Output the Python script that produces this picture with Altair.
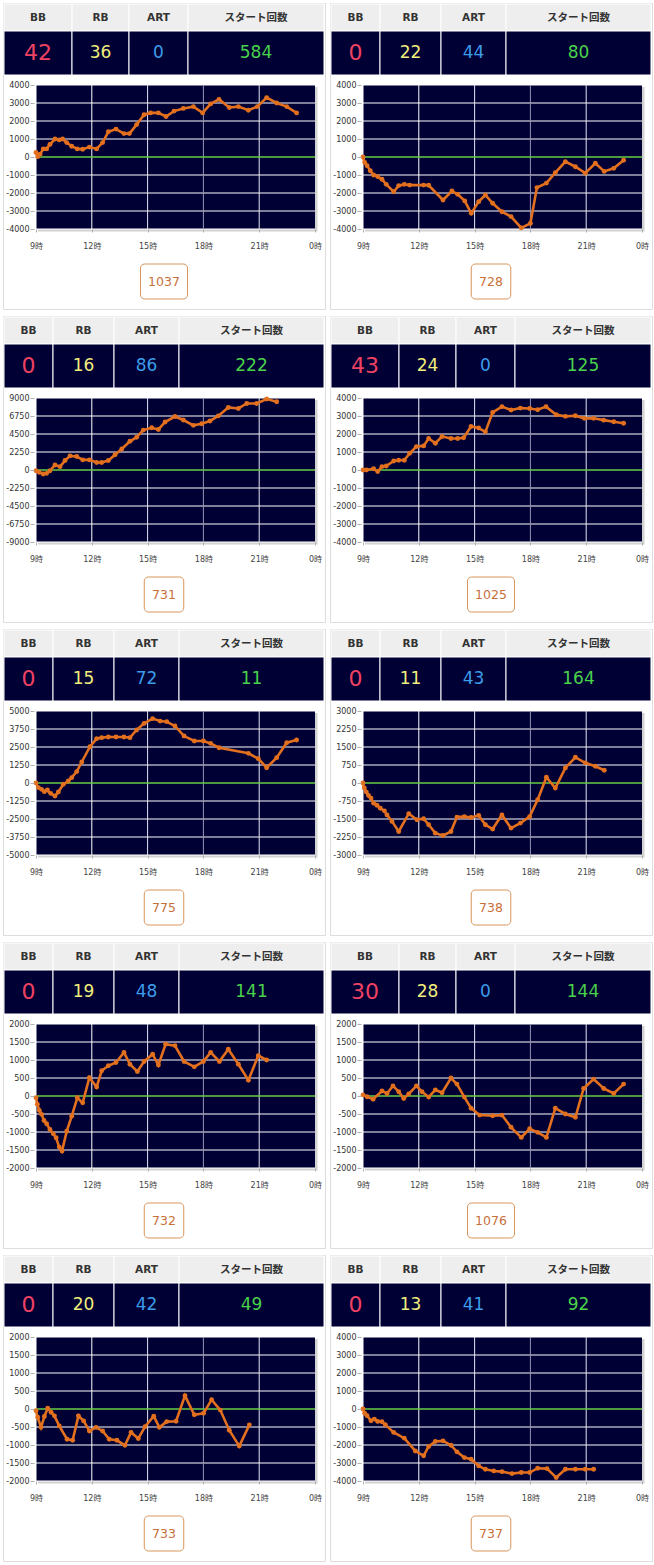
import altair as alt
import pandas as pd

# ---------------- data ----------------
headers = ["BB", "RB", "ART", "スタート回数"]
bb_counts = [42, 0, 0, 43, 0, 0, 0, 30, 0, 0]
rb_counts = [36, 22, 16, 24, 15, 11, 19, 28, 20, 13]
art_counts = [0, 44, 86, 0, 72, 43, 48, 0, 42, 41]
start_counts = [584, 80, 222, 125, 11, 164, 141, 144, 49, 92]
machine_numbers = [1037, 728, 731, 1025, 775, 738, 732, 1076, 733, 737]
y_limits = [4000, 4000, 9000, 4000, 5000, 3000, 2000, 2000, 2000, 4000]

y_tick_sets = {
    2000: [-2000, -1500, -1000, -500, 0, 500, 1000, 1500, 2000],
    3000: [-3000, -2250, -1500, -750, 0, 750, 1500, 2250, 3000],
    4000: [-4000, -3000, -2000, -1000, 0, 1000, 2000, 3000, 4000],
    5000: [-5000, -3750, -2500, -1250, 0, 1250, 2500, 3750, 5000],
    9000: [-9000, -6750, -4500, -2250, 0, 2250, 4500, 6750, 9000],
}
x_ticks = [9, 12, 15, 18, 21, 24]
x_tick_labels = ["9時", "12時", "15時", "18時", "21時", "0時"]

p1_h = [9.00, 9.09, 9.22, 9.39, 9.57, 9.75, 10.02, 10.25, 10.43, 10.65, 10.92, 11.22, 11.51, 11.87, 12.26, 12.58, 12.89, 13.30, 13.73, 14.02, 14.41, 14.81, 15.16, 15.58, 15.99, 16.42, 16.92, 17.46, 17.96, 18.39, 18.84, 19.39, 19.88, 20.42, 20.90, 21.40, 21.94, 22.48, 23.01]
p1_v = [250, 20, 150, 450, 450, 700, 1000, 950, 1000, 800, 600, 450, 430, 550, 450, 800, 1400, 1550, 1300, 1300, 1800, 2350, 2450, 2450, 2250, 2550, 2700, 2800, 2450, 2950, 3200, 2750, 2800, 2600, 2800, 3300, 3000, 2800, 2450]

p2_h = [9.00, 9.09, 9.22, 9.39, 9.57, 9.79, 10.02, 10.25, 10.65, 10.92, 11.22, 11.51, 12.26, 12.53, 13.30, 13.78, 14.09, 14.47, 14.82, 15.22, 15.58, 15.97, 16.47, 16.96, 17.51, 18.00, 18.35, 18.86, 19.34, 19.88, 20.42, 20.95, 21.49, 21.97, 22.48, 23.01]
p2_v = [0, -300, -480, -760, -1000, -1090, -1240, -1520, -1930, -1590, -1520, -1560, -1560, -1570, -2390, -1890, -2070, -2440, -3130, -2480, -2110, -2570, -3040, -3310, -3940, -3690, -1700, -1450, -870, -260, -540, -900, -350, -800, -630, -180]

p3_h = [9.00, 9.18, 9.39, 9.57, 9.75, 10.02, 10.29, 10.56, 10.83, 11.19, 11.51, 11.87, 12.26, 12.53, 12.89, 13.25, 13.61, 14.05, 14.41, 14.77, 15.22, 15.58, 15.94, 16.47, 16.92, 17.46, 17.91, 18.35, 18.80, 19.34, 19.88, 20.33, 20.86, 21.40, 21.94]
p3_v = [-100, -300, -500, -420, -100, 630, 420, 1180, 1770, 1690, 1270, 1270, 930, 930, 1180, 1900, 2620, 3590, 4100, 4990, 5280, 5070, 6000, 6680, 6250, 5580, 5790, 6130, 6760, 7820, 7690, 8320, 8320, 8870, 8530]

p4_h = [9.00, 9.18, 9.57, 9.79, 10.02, 10.25, 10.65, 10.92, 11.22, 11.51, 11.87, 12.26, 12.53, 12.89, 13.25, 13.73, 14.09, 14.41, 14.81, 15.22, 15.58, 15.97, 16.47, 16.96, 17.46, 17.96, 18.39, 18.84, 19.39, 19.88, 20.42, 20.90, 21.40, 21.94, 22.48, 23.01]
p4_v = [0, 0, 70, -90, 190, 220, 500, 540, 540, 930, 1300, 1340, 1750, 1490, 1860, 1750, 1750, 1790, 2420, 2330, 2120, 3200, 3520, 3330, 3440, 3420, 3350, 3520, 3070, 2980, 3010, 2870, 2870, 2770, 2680, 2600]

p5_h = [9.00, 9.13, 9.30, 9.45, 9.61, 9.79, 10.02, 10.20, 10.47, 10.74, 10.92, 11.19, 11.46, 11.90, 12.26, 12.53, 12.89, 13.30, 13.73, 14.05, 14.41, 14.81, 15.27, 15.67, 16.03, 16.47, 16.96, 17.51, 18.00, 18.39, 18.84, 20.42, 20.95, 21.40, 21.94, 22.48, 23.01]
p5_v = [0, -320, -440, -600, -490, -720, -900, -620, -90, 140, 370, 790, 1460, 2520, 3080, 3150, 3190, 3190, 3190, 3150, 3680, 4140, 4470, 4300, 4260, 3960, 3260, 2920, 2920, 2750, 2450, 2060, 1690, 1060, 1760, 2800, 2990]

p6_h = [9.00, 9.07, 9.18, 9.30, 9.43, 9.57, 9.75, 9.93, 10.15, 10.29, 10.56, 10.92, 11.46, 11.90, 12.26, 12.53, 12.89, 13.30, 13.73, 14.05, 14.45, 14.81, 15.22, 15.58, 15.97, 16.47, 16.96, 17.46, 17.96, 18.39, 18.86, 19.34, 19.88, 20.42, 20.95, 21.49, 21.97]
p6_v = [0, -210, -380, -520, -630, -840, -930, -1050, -1160, -1330, -1600, -2020, -1280, -1530, -1490, -1740, -2090, -2190, -2020, -1420, -1400, -1440, -1350, -1740, -1920, -1330, -1880, -1670, -1400, -700, 240, -210, 630, 1070, 840, 700, 530]

p7_h = [9.00, 9.07, 9.18, 9.30, 9.43, 9.57, 9.75, 9.93, 10.08, 10.25, 10.40, 10.65, 10.92, 11.22, 11.51, 11.87, 12.26, 12.53, 12.89, 13.30, 13.73, 14.05, 14.45, 14.81, 15.27, 15.58, 15.97, 16.47, 16.96, 17.51, 18.00, 18.39, 18.86, 19.34, 19.88, 20.42, 20.95, 21.40]
p7_v = [-50, -230, -400, -510, -680, -770, -930, -1050, -1160, -1420, -1530, -980, -560, -50, -190, 510, 250, 700, 840, 930, 1210, 880, 680, 960, 1160, 860, 1440, 1400, 960, 810, 960, 1210, 960, 1300, 880, 440, 1120, 1000]

p8_h = [9.00, 9.22, 9.54, 10.02, 10.29, 10.61, 10.92, 11.19, 11.46, 11.87, 12.17, 12.53, 12.89, 13.25, 13.73, 14.05, 14.45, 14.81, 15.27, 15.97, 16.47, 16.96, 17.51, 17.96, 18.39, 18.86, 19.34, 19.88, 20.42, 20.86, 21.40, 21.94, 22.48, 23.01]
p8_v = [30, -20, -90, 140, 70, 280, 120, -70, 60, 280, 120, -30, 170, 90, 500, 330, -30, -340, -530, -550, -530, -870, -1150, -910, -1010, -1150, -340, -500, -590, 210, 470, 210, 70, 330]

p9_h = [9.00, 9.09, 9.27, 9.45, 9.63, 9.81, 9.99, 10.25, 10.67, 10.97, 11.28, 11.56, 11.87, 12.23, 12.58, 12.94, 13.35, 13.78, 14.11, 14.50, 14.86, 15.33, 15.63, 16.03, 16.53, 17.01, 17.51, 18.01, 18.44, 18.91, 19.39, 19.93, 20.47]
p9_v = [-50, -230, -510, -210, 20, -90, -190, -470, -840, -870, -190, -330, -610, -510, -610, -840, -870, -1010, -650, -820, -490, -200, -510, -350, -340, 370, -160, -120, 260, -30, -590, -1030, -440]

p10_h = [9.00, 9.09, 9.22, 9.43, 9.61, 9.79, 10.02, 10.20, 10.65, 11.22, 11.81, 12.26, 12.53, 12.89, 13.30, 13.73, 14.05, 14.45, 14.81, 15.22, 15.58, 16.03, 16.47, 17.01, 17.51, 17.96, 18.39, 18.89, 19.39, 19.88, 20.42, 20.95, 21.40]
p10_v = [0, -240, -370, -650, -560, -690, -710, -870, -1300, -1620, -2330, -2600, -2080, -1800, -1770, -2010, -2380, -2700, -2790, -3160, -3350, -3440, -3480, -3590, -3530, -3530, -3290, -3310, -3810, -3350, -3350, -3350, -3350]

series_hours = [p1_h, p2_h, p3_h, p4_h, p5_h, p6_h, p7_h, p8_h, p9_h, p10_h]
series_values = [p1_v, p2_v, p3_v, p4_v, p5_v, p6_v, p7_v, p8_v, p9_v, p10_v]

# ---------------- layout & style ----------------
PW, PH = 322, 306                 # panel box
PLOT_X = (33, 312)                # plot area inside panel
PLOT_Y = (82, 226)
HEAD_Y = (1, 28)
VAL_Y = (28, 72)
COLS_WIDE = [1, 69, 126, 185, 321]
COLS_NARROW = [1, 50, 111, 176, 321]
BOX_Y = (261, 296)
BOX_CX = 161

FONT = "DejaVu Sans, Noto Sans CJK JP, sans-serif"
NAVY = "#000035"
HEAD_BG = "#eeeeee"
VALUE_COLORS = ["#ee4262", "#f2ee7c", "#3c9de8", "#4ad24a"]
VALUE_SIZES = [22, 17, 17, 17]
LINE = "#e2701e"
ZERO = "#66cc44"
BORDER = "#cccccc"
VGRID_COLORS = ["#ffffff", "#ffffff", "#e4e4f4", "#9494b6", "#e4e4f4"]

x_label_expr = " : ".join(
    f"datum.value == {t} ? '{l}'" for t, l in zip(x_ticks, x_tick_labels)
) + " : ''"


def lsc_x():
    return alt.Scale(domain=[0, PW], range=[0, PW], nice=False, zero=False)


def lsc_y():
    return alt.Scale(domain=[0, PH], range=[0, PH], nice=False, zero=False)


def lx(f):
    return alt.X(f"{f}:Q", scale=lsc_x(), axis=None)


def ly(f):
    return alt.Y(f"{f}:Q", scale=lsc_y(), axis=None)


def panel(i):
    m = y_limits[i]
    ticks = y_tick_sets[m]
    cols = COLS_WIDE if len(str(bb_counts[i])) > 1 else COLS_NARROW
    vals = [bb_counts[i], rb_counts[i], art_counts[i], start_counts[i]]

    cells = pd.DataFrame({
        "x0": cols[:-1], "x1": cols[1:],
        "head": headers, "val": [str(v) for v in vals],
        "vcolor": VALUE_COLORS, "vsize": VALUE_SIZES,
    })
    cells["xm"] = (cells["x0"] + cells["x1"]) / 2
    cells["hy0"], cells["hy1"] = HEAD_Y
    cells["vy0"], cells["vy1"] = VAL_Y
    cells["hty"] = (HEAD_Y[0] + HEAD_Y[1]) / 2
    cells["vty"] = (VAL_Y[0] + VAL_Y[1]) / 2

    label = str(machine_numbers[i])
    bw = 7.5 * len(label) + 17
    box = pd.DataFrame({
        "x0": [BOX_CX - bw / 2], "x1": [BOX_CX + bw / 2],
        "y0": [BOX_Y[0]], "y1": [BOX_Y[1]],
        "xm": [BOX_CX], "ym": [(BOX_Y[0] + BOX_Y[1]) / 2], "label": [label],
    })
    shadow = pd.DataFrame({"x0": [PLOT_X[0] + 2], "x1": [PLOT_X[1] + 2.5],
                           "y0": [PLOT_Y[0] + 2], "y1": [PLOT_Y[1] + 2.5]})

    layers = []
    layers.append(alt.Chart(shadow).mark_rect(fill="#d2d2d2").encode(
        x=lx("x0"), x2="x1", y=ly("y0"), y2="y1"))
    layers.append(alt.Chart(cells).mark_rect(fill=HEAD_BG, stroke="white", strokeWidth=1).encode(
        x=lx("x0"), x2="x1", y=ly("hy0"), y2="hy1"))
    layers.append(alt.Chart(cells).mark_rect(fill=NAVY, stroke="white", strokeWidth=1).encode(
        x=lx("x0"), x2="x1", y=ly("vy0"), y2="vy1"))
    layers.append(alt.Chart(cells).mark_text(
        font=FONT, fontSize=10.5, fontWeight="bold", color="#333333",
        baseline="middle", align="center").encode(
        x=lx("xm"), y=ly("hty"), text="head:N"))
    layers.append(alt.Chart(cells).mark_text(font=FONT, baseline="middle", align="center").encode(
        x=lx("xm"), y=ly("vty"), text="val:N",
        color=alt.Color("vcolor:N", scale=None),
        size=alt.Size("vsize:Q", scale=None)))
    layers.append(alt.Chart(box).mark_rect(
        fill="white", stroke="#d9955b", strokeWidth=1, cornerRadius=4).encode(
        x=lx("x0"), x2="x1", y=ly("y0"), y2="y1"))
    layers.append(alt.Chart(box).mark_text(
        font=FONT, fontSize=12.5, color="#c8703a", baseline="middle", align="center").encode(
        x=lx("xm"), y=ly("ym"), text="label:N"))

    def tx(f, axis=None):
        return alt.X(f"{f}:Q", scale=alt.Scale(domain=[9, 24], range=list(PLOT_X), nice=False, zero=False), axis=axis)

    def ty(f, axis=None):
        return alt.Y(f"{f}:Q", scale=alt.Scale(domain=[-m, m], range=[PLOT_Y[1], PLOT_Y[0]], nice=False, zero=False), axis=axis)

    bg = pd.DataFrame({"h0": [9], "h1": [24], "v0": [-m], "v1": [m]})
    hgrid = pd.DataFrame({"v": [t for t in ticks if t != 0], "h0": 9, "h1": 24})
    vgrid = pd.DataFrame({"h": [9, 12, 15, 18, 21], "v0": -m, "v1": m, "c": VGRID_COLORS})
    zero = pd.DataFrame({"v": [0], "h0": [9], "h1": [24]})
    line = pd.DataFrame({"h": series_hours[i], "v": series_values[i]})

    x_axis = alt.Axis(
        orient="bottom", offset=-(PH - PLOT_Y[1]), values=x_ticks, labelExpr=x_label_expr,
        labelFlush=False, labelOverlap=False, domain=False, grid=False,
        tickSize=3, tickColor="#b0b0b0", labelFont=FONT, labelFontSize=8,
        labelColor="#444444", labelPadding=10, title=None, zindex=1)
    y_axis = alt.Axis(
        orient="left", offset=-(PLOT_X[0] - 2), values=ticks, labelExpr="'' + datum.value",
        labelOverlap=False, labelFlush=False, domain=False, grid=False,
        tickSize=4, tickColor="#b0b0b0", labelFont=FONT, labelFontSize=8,
        labelColor="#333333", labelPadding=1, title=None, zindex=1)

    layers.append(alt.Chart(bg).mark_rect(fill=NAVY).encode(
        x=tx("h0"), x2="h1", y=ty("v0"), y2="v1"))
    layers.append(alt.Chart(hgrid).mark_rule(color="white", strokeWidth=1).encode(
        y=ty("v"), x=tx("h0"), x2="h1"))
    layers.append(alt.Chart(vgrid).mark_rule(strokeWidth=1).encode(
        x=tx("h"), y=ty("v0"), y2="v1", color=alt.Color("c:N", scale=None)))
    layers.append(alt.Chart(zero).mark_rule(color=ZERO, strokeWidth=1.3).encode(
        y=ty("v"), x=tx("h0"), x2="h1"))
    layers.append(alt.Chart(line).mark_line(color=LINE, strokeWidth=2.6).encode(
        x=tx("h", x_axis), y=ty("v", y_axis)))
    layers.append(alt.Chart(line).mark_circle(color=LINE, size=24, opacity=1).encode(
        x=tx("h"), y=ty("v")))

    return alt.layer(*layers).resolve_scale(
        x="independent", y="independent").properties(width=PW, height=PH)


panels = [panel(i) for i in range(len(machine_numbers))]

chart = alt.concat(
    *panels, columns=2, spacing={"row": 7, "column": 5}, bounds="flush"
).properties(
    padding={"left": 2, "top": 2, "right": 0, "bottom": 0}
).configure_view(
    stroke=BORDER, strokeWidth=1
).configure(background="white")

chart.save("out.html", embed_options={"renderer": "svg", "actions": False})
